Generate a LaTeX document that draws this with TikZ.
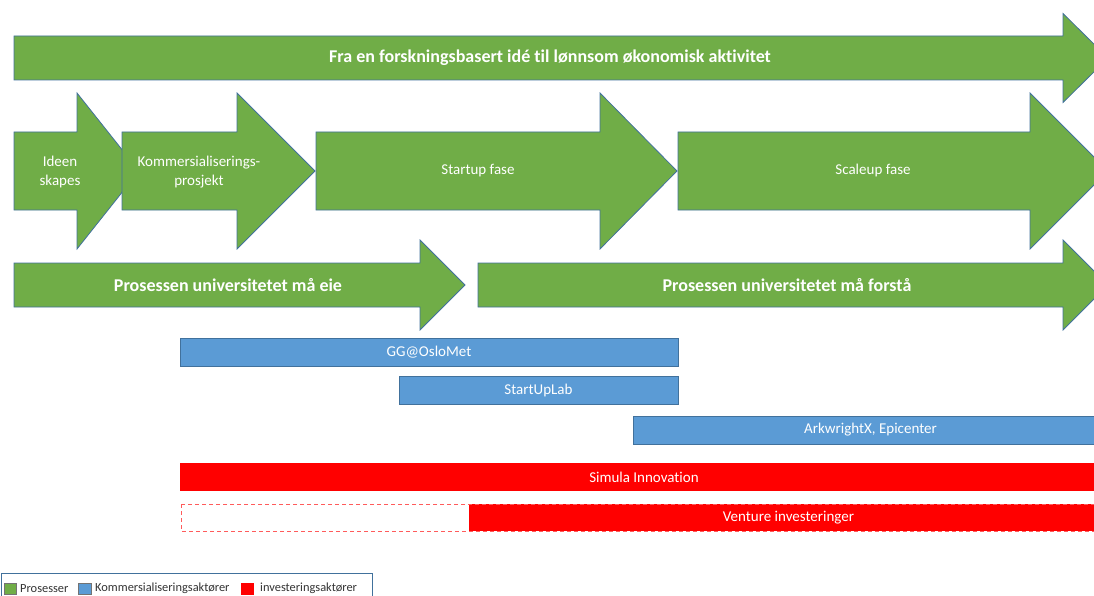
\documentclass[tikz,border=0pt]{standalone}
\usepackage{fontspec}
\setmainfont{Carlito}[Ligatures=NoCommon]
\definecolor{grn}{HTML}{70AD47}
\definecolor{blu}{HTML}{5B9BD5}
\definecolor{edgec}{HTML}{41719C}
\definecolor{redc}{HTML}{FF0000}
\definecolor{dashred}{HTML}{FF5B5B}
\newcommand\garrow[6]{%
  \draw[garr] (#1,#4-#5) -- (#2,#4-#5) -- (#2,#4-#6) -- (#3,#4) -- (#2,#4+#6) -- (#2,#4+#5) -- (#1,#4+#5) -- cycle;}
\tikzset{
  garr/.style={fill=grn, draw=edgec, line width=0.8pt, line join=miter},
  gtext/.style={text=white, font=\fontsize{15}{19}\selectfont, align=center, inner sep=0pt},
  gbold/.style={gtext, font=\fontsize{18}{21}\selectfont\bfseries},
  bbar/.style={fill=blu, draw=edgec, line width=0.8pt, text=white, font=\fontsize{15}{18}\selectfont, inner sep=0pt, minimum height=28pt},
  rbar/.style={fill=redc, draw=none, text=white, font=\fontsize{15}{18}\selectfont, inner sep=0pt, minimum height=28pt},
  legsq/.style={draw=black!55, line width=0.5pt},
  legtext/.style={font=\fontsize{12.4}{14}\selectfont, text=black!80, inner sep=0pt, anchor=west}
}
\begin{document}
\begin{tikzpicture}[x=1pt,y=-1pt]
\useasboundingbox (0,0) rectangle (1094,596);
\clip (0,0) rectangle (1094,596);
% top arrow
\garrow{14}{1063}{1108}{58}{22}{44.5}
\node[gbold] (title) at (550,58) {Fra en forskningsbasert idé til lønnsom økonomisk aktivitet};
% phase arrows
\garrow{14}{77}{139}{171}{39}{78}
\garrow{122}{237}{315}{171}{39}{78}
\garrow{316}{600}{677}{171}{39}{78}
\garrow{678}{1030}{1108}{171}{39}{78}
\node[gtext] (p1) at (60,172) {Ideen\\skapes};
\node[gtext] (p2) at (199,172) {Kommersialiserings-\\prosjekt};
\node[gtext] (p3) at (478,171) {Startup fase};
\node[gtext] (p4) at (873,171) {Scaleup fase};
% process arrows
\garrow{14}{420}{465}{285}{22}{45}
\garrow{478}{1063}{1108}{285}{22}{45}
\node[gbold] (eie) at (228,285) {Prosessen universitetet må eie};
\node[gbold] (forsta) at (787,285) {Prosessen universitetet må forstå};
% blue bars
\node[bbar, minimum width=498pt] (gg) at (429,352) {GG@OsloMet};
\node[bbar, minimum width=279pt] (sul) at (538.5,390.5) {StartUpLab};
\node[bbar, minimum width=475pt] (ark) at (870.5,430) {ArkwrightX, Epicenter};
% red bars
\node[rbar, minimum width=928pt] (sim) at (644,477) {Simula Innovation};
\node[rbar, minimum width=639pt, minimum height=27pt] (ven) at (788.5,517.5) {Venture investeringer};
\draw[dashred, line width=0.9pt, dash pattern=on 4pt off 3pt] (181,504) rectangle (1108,531);
% legend
\draw[edgec, line width=0.6pt] (1,573) rectangle (372,600);
\draw[legsq, fill=grn] (4,583) rectangle (16,594);
\node[legtext] (l1) at (20,588.5) {Prosesser};
\draw[legsq, fill=blu] (78,583) rectangle (91,594);
\node[legtext] (l2) at (95,588.5) {Kommersialiseringsaktører};
\draw[fill=redc, draw=redc] (241,583) rectangle (253,594);
\node[legtext] (l3) at (260,588.5) {investeringsaktører};
\end{tikzpicture}
\end{document}
